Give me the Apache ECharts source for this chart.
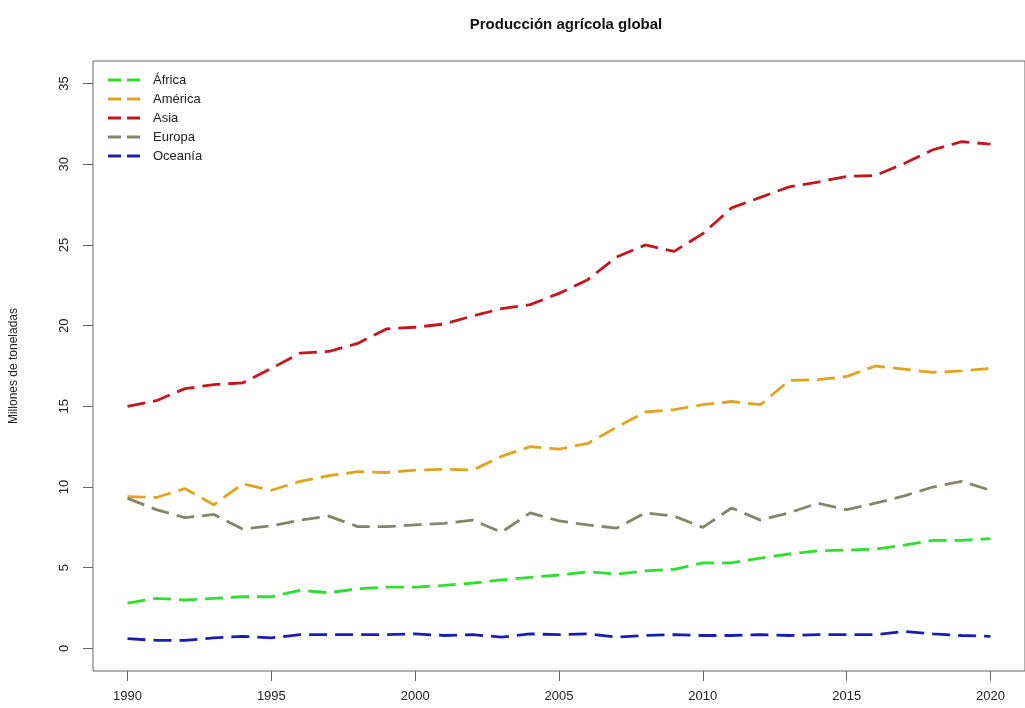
<!DOCTYPE html>
<html>
<head>
<meta charset="utf-8">
<script src="https://cdn.jsdelivr.net/npm/echarts@6/dist/echarts.min.js"></script>
<style>
html,body{margin:0;padding:0;background:#fff;}
#chart{width:1025px;height:708px;}
</style>
</head>
<body>
<div id="chart"></div>
<script>
const years = [1990,1991,1992,1993,1994,1995,1996,1997,1998,1999,2000,2001,2002,2003,2004,2005,2006,2007,2008,2009,2010,2011,2012,2013,2014,2015,2016,2017,2018,2019,2020];
const africa  = [2.8,3.1,3.0,3.1,3.2,3.2,3.6,3.45,3.7,3.8,3.8,3.9,4.05,4.25,4.4,4.55,4.75,4.6,4.8,4.9,5.3,5.3,5.6,5.85,6.05,6.1,6.15,6.4,6.7,6.7,6.8];
const america = [9.4,9.35,9.9,8.9,10.2,9.8,10.35,10.7,10.95,10.9,11.05,11.1,11.05,11.9,12.5,12.35,12.7,13.7,14.65,14.8,15.1,15.3,15.1,16.6,16.65,16.85,17.5,17.3,17.1,17.2,17.35];
const asia    = [15.0,15.35,16.1,16.35,16.45,17.35,18.3,18.4,18.9,19.8,19.9,20.1,20.6,21.05,21.3,22.0,22.85,24.25,25.0,24.6,25.7,27.3,27.95,28.6,28.9,29.25,29.3,30.05,30.9,31.4,31.25];
const europa  = [9.3,8.6,8.1,8.3,7.4,7.6,7.95,8.2,7.55,7.55,7.65,7.75,7.95,7.2,8.4,7.9,7.65,7.45,8.4,8.2,7.5,8.7,7.95,8.4,9.0,8.6,9.0,9.45,10.0,10.35,9.8];
const oceania = [0.6,0.5,0.5,0.65,0.75,0.65,0.85,0.85,0.85,0.85,0.9,0.8,0.85,0.7,0.9,0.85,0.9,0.7,0.8,0.85,0.8,0.8,0.85,0.8,0.85,0.85,0.85,1.05,0.9,0.8,0.75];
const seriesNames = ['África','América','Asia','Europa','Oceanía'];
const xTicks = [1990,1995,2000,2005,2010,2015,2020];
const yTicks = [0,5,10,15,20,25,30,35];

const colors = ['#2ee02e','#e0a41e','#c8141e','#85856c','#1c1cb4'];
const values = [africa, america, asia, europa, oceania];
const dashIcon = 'path://M0,0h13v3h-13z M19,0h13v3h-13z';

const chart = echarts.init(document.getElementById('chart'), null, {renderer:'canvas'});
const FONT = 'Liberation Sans, Arial, sans-serif';
chart.setOption({
  animation:false,
  backgroundColor:'#fff',
  title:{
    text:'Producción agrícola global',
    left:561, top:12, textAlign:'center',
    textStyle:{fontFamily:FONT, fontWeight:'bold', fontSize:15, color:'#111'}
  },
  legend:{
    orient:'vertical', left:103, top:68,
    itemWidth:32, itemHeight:3, itemGap:5,
    data:seriesNames.map(n=>({name:n, icon:dashIcon})),
    textStyle:{fontFamily:FONT, fontSize:13, lineHeight:14, color:'#222', padding:[0,0,0,8]}
  },
  grid:{left:91, top:61, width:943, height:610, show:true, borderColor:'#666', borderWidth:1, containLabel:false},
  xAxis:{
    type:'value', min:1988.8, max:2021.2,
    axisLine:{show:false, onZero:false},
    splitLine:{show:false},
    axisTick:{show:true, inside:false, length:10, lineStyle:{color:'#666'}, customValues:xTicks},
    axisLabel:{fontFamily:FONT, fontSize:13, color:'#222', margin:19, customValues:xTicks, formatter:v=>String(v)}
  },
  yAxis:{
    type:'value', min:-1.4, max:36.4,
    name:'Millones de toneladas', nameLocation:'middle', nameGap:73, nameRotate:90,
    nameTextStyle:{fontFamily:FONT, fontSize:12, color:'#222'},
    axisLine:{show:false, onZero:false},
    splitLine:{show:false},
    axisTick:{show:true, inside:false, length:10, lineStyle:{color:'#666'}, customValues:yTicks},
    axisLabel:{fontFamily:FONT, fontSize:13, color:'#222', margin:22, rotate:90, customValues:yTicks, formatter:v=>String(v)}
  },
  series: seriesNames.map((n,i)=>({
    name:n, type:'line', symbol:'none', showSymbol:false,
    data: years.map((y,j)=>[y, values[i][j]]),
    lineStyle:{color:colors[i], width:2.8, type:[18,8]},
    itemStyle:{color:colors[i]}
  }))
});
</script>
</body>
</html>
